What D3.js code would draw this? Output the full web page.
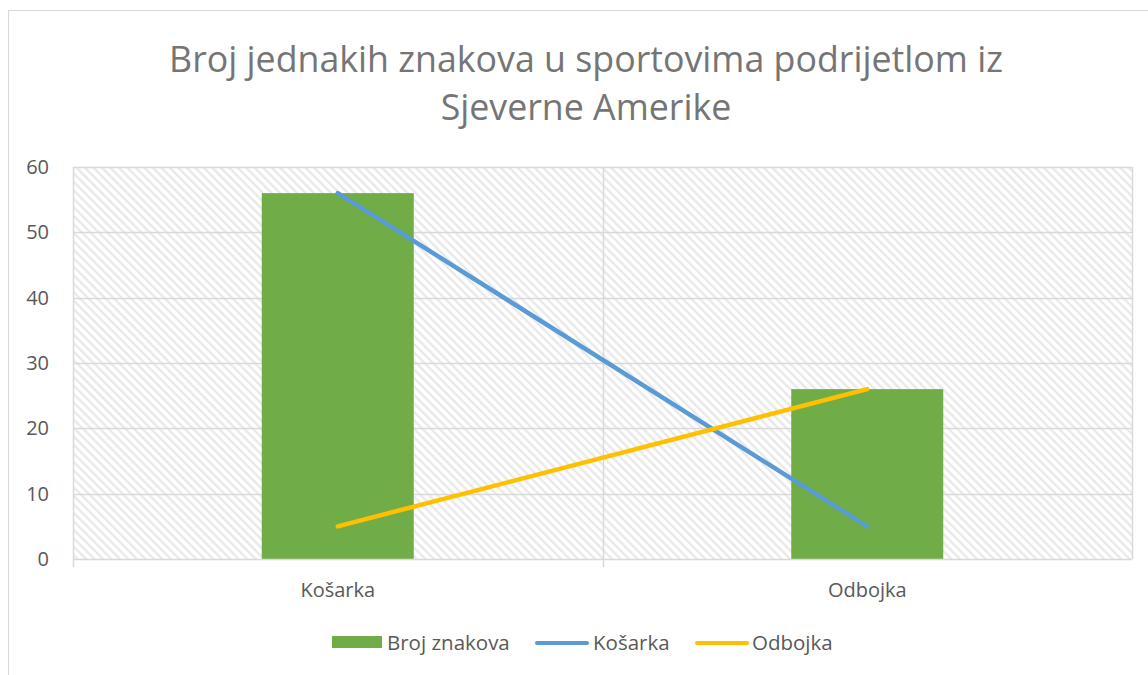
<!doctype html>
<html>
<head>
<meta charset="utf-8">
<style>
  body { margin: 0; background: #fff; }
  text { font-family: "Open Sans", "Liberation Sans", sans-serif; fill: #595959; }
</style>
<script src="https://d3js.org/d3.v7.min.js"></script>
</head>
<body>
<svg width="1148" height="675"></svg>
<script>
var categories = ["Košarka", "Odbojka"];
var barValues = [56, 26];          // Broj znakova
var kosarkaLine = [56, 5];
var odbojkaLine = [5, 26];
var yTicks = [0, 10, 20, 30, 40, 50, 60];
var legendNames = ["Broj znakova", "Košarka", "Odbojka"];

var svg = d3.select("svg");
var pLeft = 73, pRight = 1132, pTop = 167, pBottom = 559;

// chart border
svg.append("rect")
   .attr("x", 8.5).attr("y", 10.5)
   .attr("width", 1160).attr("height", 700)
   .attr("fill", "#fff")
   .attr("stroke", "#d9d9d9");

// hatch pattern (downward diagonal)
var defs = svg.append("defs");
var pat = defs.append("pattern")
   .attr("id", "hatch")
   .attr("patternUnits", "userSpaceOnUse")
   .attr("width", 6).attr("height", 6)
   .attr("patternTransform", "rotate(-45)");
pat.append("line")
   .attr("x1", 1.5).attr("y1", 0).attr("x2", 1.5).attr("y2", 6)
   .attr("stroke", "#e4e4e4")
   .attr("stroke-width", 2);

var x = d3.scaleBand().domain(categories).range([pLeft, pRight]);
var y = d3.scaleLinear().domain([0, 60]).range([pBottom, pTop]);

svg.append("rect")
   .attr("x", pLeft).attr("y", pTop)
   .attr("width", pRight - pLeft).attr("height", pBottom - pTop)
   .attr("fill", "url(#hatch)");

// gridlines
svg.append("g").selectAll("line")
   .data(yTicks.slice(1)).enter()
   .append("line")
   .attr("x1", pLeft).attr("x2", pRight)
   .attr("y1", function(d) { return Math.round(y(d)) + 0.5; })
   .attr("y2", function(d) { return Math.round(y(d)) + 0.5; })
   .attr("stroke", "#d9d9d9").attr("stroke-width", 1.5);

var xEdges = [pLeft, x(categories[1]), pRight];
svg.append("g").selectAll("line")
   .data(xEdges).enter()
   .append("line")
   .attr("x1", function(d) { return Math.round(d) + 0.5; })
   .attr("x2", function(d) { return Math.round(d) + 0.5; })
   .attr("y1", pTop).attr("y2", function(d, i) { return i === 2 ? pBottom : pBottom + 8; })
   .attr("stroke", "#d9d9d9").attr("stroke-width", 1.5);

// bars
var barW = 152;
svg.append("g").selectAll("rect")
   .data(barValues).enter()
   .append("rect")
   .attr("x", function(d, i) { return x(categories[i]) + x.bandwidth() / 2 - barW / 2; })
   .attr("y", function(d) { return y(d); })
   .attr("width", barW)
   .attr("height", function(d) { return y(0) - y(d); })
   .attr("fill", "#70ad47");

// x axis line
svg.append("line")
   .attr("x1", pLeft).attr("x2", pRight)
   .attr("y1", pBottom + 0.5).attr("y2", pBottom + 0.5)
   .attr("stroke", "#d9d9d9").attr("stroke-width", 1.5);

// lines
var line = d3.line()
   .x(function(d, i) { return x(categories[i]) + x.bandwidth() / 2; })
   .y(function(d) { return y(d); });

svg.append("path").datum(kosarkaLine)
   .attr("d", line).attr("fill", "none")
   .attr("stroke", "#5b9bd5").attr("stroke-width", 4.5)
   .attr("stroke-linecap", "round");
svg.append("path").datum(odbojkaLine)
   .attr("d", line).attr("fill", "none")
   .attr("stroke", "#ffc000").attr("stroke-width", 4.5)
   .attr("stroke-linecap", "round");

// y tick labels
svg.append("g").selectAll("text")
   .data(yTicks).enter()
   .append("text")
   .attr("x", 49).attr("y", function(d) { return y(d); })
   .attr("dy", "0.35em")
   .attr("text-anchor", "end")
   .attr("font-size", "20px")
   .text(function(d) { return d; });

// category labels
svg.append("g").selectAll("text")
   .data(categories).enter()
   .append("text")
   .attr("x", function(d) { return x(d) + x.bandwidth() / 2; })
   .attr("y", 597)
   .attr("text-anchor", "middle")
   .attr("font-size", "20px")
   .text(function(d) { return d; });

// title
var titleLines = ["Broj jednakih znakova u sportovima podrijetlom iz", "Sjeverne Amerike"];
var t = svg.append("g").selectAll("text")
   .data(titleLines).enter()
   .append("text")
   .attr("x", 586)
   .attr("y", function(d, i) { return 72 + i * 48; })
   .attr("text-anchor", "middle")
   .attr("font-size", "34px")
   .style("fill", "#757575")
   .text(function(d) { return d; });
var w0 = t.node().getComputedTextLength();
t.attr("font-size", (34 * 834 / w0) + "px");

// legend
var lg = svg.append("g").attr("font-size", "20.5px");
lg.append("rect").attr("x", 332).attr("y", 636).attr("width", 50).attr("height", 12).attr("fill", "#70ad47");
lg.append("text").attr("x", 387).attr("y", 650).text(legendNames[0]);
lg.append("line").attr("x1", 537).attr("x2", 587).attr("y1", 643).attr("y2", 643)
  .attr("stroke", "#5b9bd5").attr("stroke-width", 4).attr("stroke-linecap", "round");
lg.append("text").attr("x", 593).attr("y", 650).text(legendNames[1]);
lg.append("line").attr("x1", 697).attr("x2", 747).attr("y1", 643).attr("y2", 643)
  .attr("stroke", "#ffc000").attr("stroke-width", 4).attr("stroke-linecap", "round");
lg.append("text").attr("x", 752).attr("y", 650).text(legendNames[2]);
</script>
</body>
</html>
